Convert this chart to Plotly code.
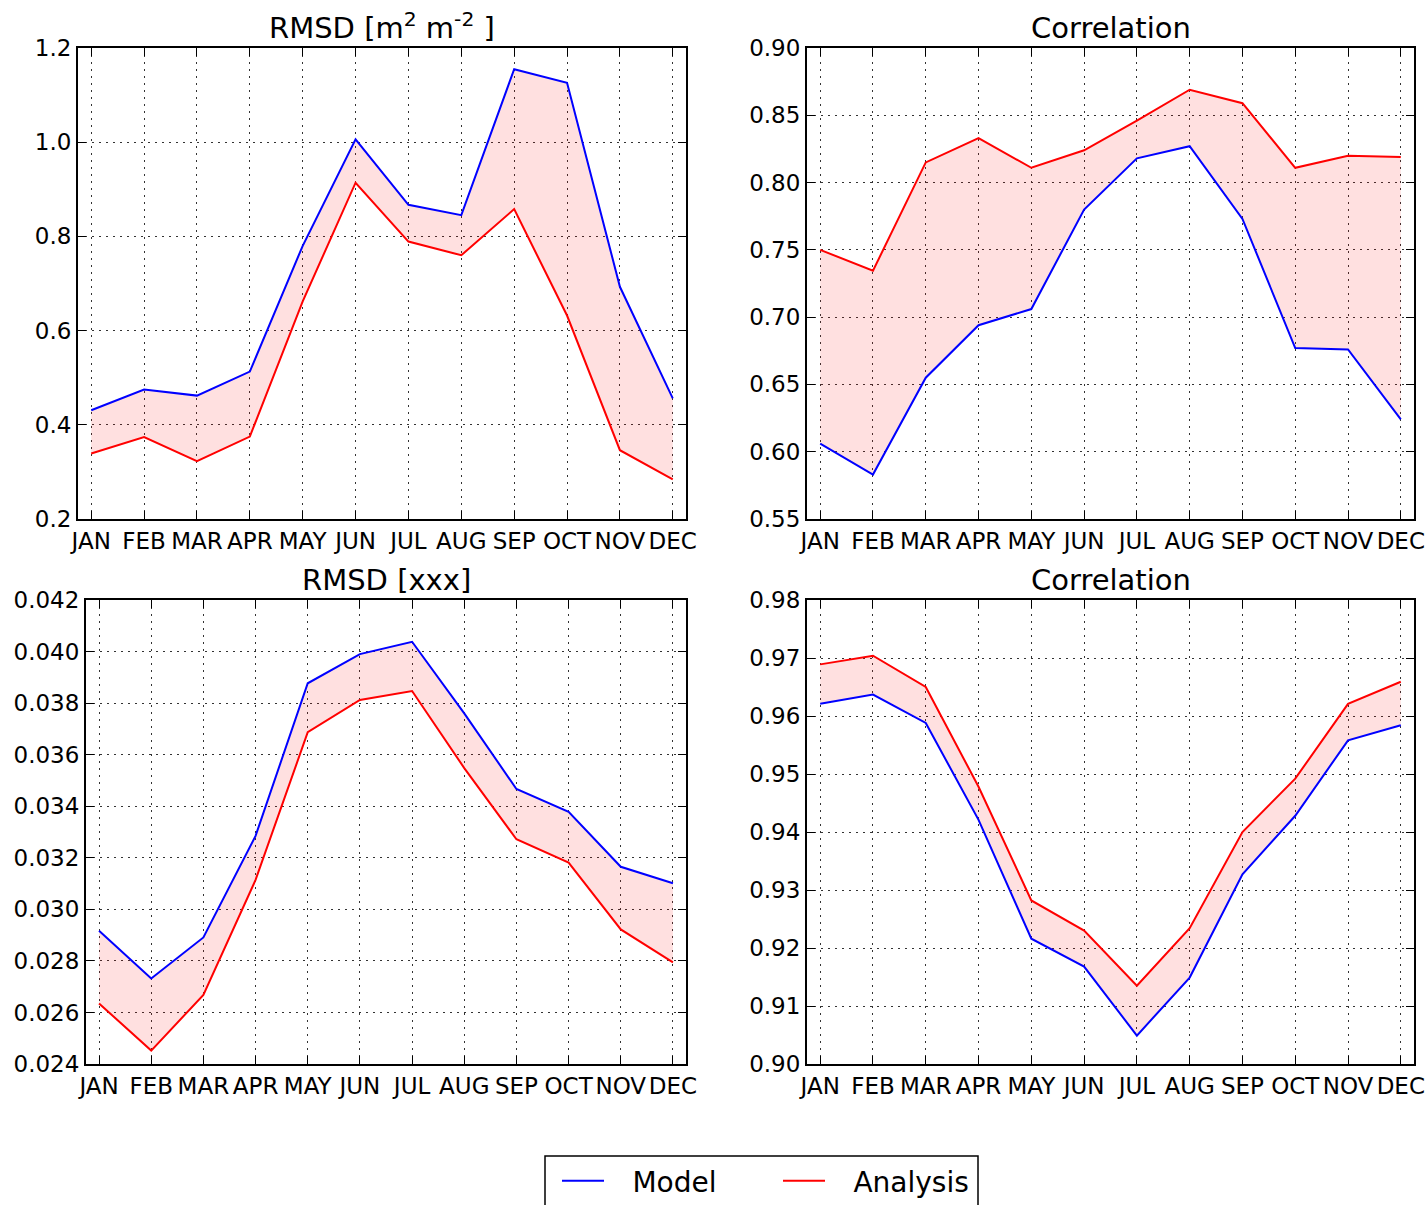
import plotly.graph_objects as go

# Monthly statistics of model vs analysis
months = ["JAN", "FEB", "MAR", "APR", "MAY", "JUN",
          "JUL", "AUG", "SEP", "OCT", "NOV", "DEC"]

rmsd_lai_model = [0.431, 0.475, 0.462, 0.513, 0.780, 1.006,
                  0.867, 0.845, 1.155, 1.126, 0.693, 0.456]
rmsd_lai_analysis = [0.339, 0.374, 0.323, 0.375, 0.662, 0.914,
                     0.789, 0.760, 0.858, 0.632, 0.346, 0.284]

corr_lai_model = [0.606, 0.583, 0.655, 0.694, 0.706, 0.780,
                  0.818, 0.827, 0.773, 0.677, 0.676, 0.624]
corr_lai_analysis = [0.750, 0.7345, 0.815, 0.833, 0.811, 0.824,
                     0.846, 0.869, 0.859, 0.811, 0.820, 0.819]

rmsd_xxx_model = [0.02917, 0.02732, 0.02891, 0.03285, 0.03877, 0.03990,
                  0.04038, 0.03760, 0.03467, 0.03378, 0.03165, 0.03101]
rmsd_xxx_analysis = [0.02635, 0.02452, 0.02668, 0.03114, 0.03687, 0.03812,
                     0.03847, 0.03548, 0.03272, 0.03181, 0.02922, 0.02794]

corr_xxx_model = [0.9621, 0.9637, 0.9588, 0.9421, 0.9216, 0.9168,
                  0.9049, 0.9149, 0.9327, 0.9428, 0.9558, 0.9584]
corr_xxx_analysis = [0.9689, 0.9704, 0.9650, 0.9478, 0.9282, 0.9230,
                     0.9135, 0.9234, 0.9400, 0.9492, 0.9621, 0.9659]

titles = ["RMSD [m<sup>2</sup> m<sup>-2</sup> ]", "Correlation",
          "RMSD [xxx]", "Correlation"]

W, H = 1427, 1205
BLUE = "#0000ff"
RED = "#ff0000"
FILL = "rgba(255,0,0,0.12)"
FONT = "DejaVu Sans"
PAD = "\u00a0\u00a0\u2009"  # gap between legend key and its label

# panel boxes in pixels: (left, right, top, bottom)
boxes = [(78, 686, 48, 519), (807, 1414, 48, 519),
         (86, 686, 600, 1064), (807, 1414, 600, 1064)]
yranges = [(0.2, 1.2), (0.55, 0.90), (0.024, 0.042), (0.90, 0.98)]
ydticks = [0.2, 0.05, 0.002, 0.01]
yformats = [".1f", ".2f", ".3f", ".2f"]
series = [(rmsd_lai_model, rmsd_lai_analysis),
          (corr_lai_model, corr_lai_analysis),
          (rmsd_xxx_model, rmsd_xxx_analysis),
          (corr_xxx_model, corr_xxx_analysis)]

fig = go.Figure()
layout = {}
annotations = []

for i, ((model, analysis), box) in enumerate(zip(series, boxes)):
    n = "" if i == 0 else str(i + 1)
    xa, ya = "x" + n, "y" + n
    # shaded band between the two curves
    fig.add_trace(go.Scatter(x=months, y=analysis, xaxis=xa, yaxis=ya,
                             mode="lines", line=dict(width=0),
                             showlegend=False, hoverinfo="skip"))
    fig.add_trace(go.Scatter(x=months, y=model, xaxis=xa, yaxis=ya,
                             mode="lines", line=dict(width=0),
                             fill="tonexty", fillcolor=FILL,
                             showlegend=False, hoverinfo="skip"))
    fig.add_trace(go.Scatter(x=months, y=model, xaxis=xa, yaxis=ya,
                             mode="lines", name=PAD + "Model",
                             line=dict(color=BLUE, width=2),
                             showlegend=(i == 0), legendwidth=164))
    fig.add_trace(go.Scatter(x=months, y=analysis, xaxis=xa, yaxis=ya,
                             mode="lines", name=PAD + "Analysis",
                             line=dict(color=RED, width=2),
                             showlegend=(i == 0)))

    l, r, t, b = box
    common = dict(showline=True, linecolor="black", linewidth=2,
                  mirror="ticks", ticks="inside", ticklen=8, tickwidth=1,
                  tickcolor="black", showgrid=True, gridcolor="#333333",
                  gridwidth=1, griddash="2px,5px", zeroline=False,
                  tickfont=dict(family=FONT, size=23, color="black"))
    layout["xaxis" + n] = dict(domain=[l / W, r / W], anchor=ya,
                               type="category", range=[-0.25, 11.25],
                               **common)
    layout["yaxis" + n] = dict(domain=[1 - b / H, 1 - t / H], anchor=xa,
                               range=list(yranges[i]), dtick=ydticks[i],
                               tick0=yranges[i][0], tickformat=yformats[i],
                               **common)
    annotations.append(dict(text=titles[i], x=(l + r) / 2 / W,
                            y=1 - t / H, xref="paper", yref="paper",
                            xanchor="center", yanchor="bottom", yshift=1,
                            showarrow=False,
                            font=dict(family=FONT, size=29, color="black")))

# frame around the legend entries
legend_frame = dict(type="rect", xref="paper", yref="paper",
                    x0=545 / W, x1=978 / W, y0=1 - 1220 / H, y1=1 - 1156 / H,
                    line=dict(color="black", width=1.5),
                    fillcolor="rgba(0,0,0,0)", layer="above")

fig.update_layout(
    width=W, height=H,
    margin=dict(l=0, r=0, t=0, b=0, autoexpand=False),
    paper_bgcolor="white", plot_bgcolor="white",
    font=dict(family=FONT, size=23, color="black"),
    annotations=annotations,
    shapes=[legend_frame],
    legend=dict(orientation="h", x=557 / W, xanchor="left",
                y=1 - 1156 / H, yanchor="top", traceorder="normal",
                borderwidth=0, bgcolor="rgba(0,0,0,0)",
                font=dict(family=FONT, size=28, color="black"),
                itemwidth=42),
    **layout,
)

fig.write_html("out.html")
